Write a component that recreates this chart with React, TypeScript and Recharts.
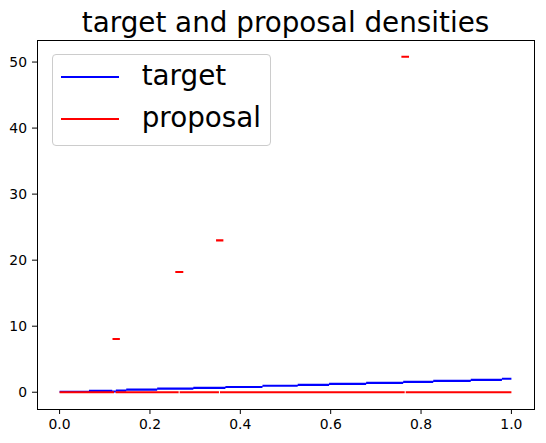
import React from 'react';
import { LineChart, Line, XAxis, YAxis } from 'recharts';

const xTicks = [0, 0.2, 0.4, 0.6, 0.8, 1.0];
const yTicks = [0, 10, 20, 30, 40, 50];

// target density, drawn as flat pieces between edges
const targetEdges = [0, 0.065, 0.1165, 0.1245, 0.1475, 0.216, 0.296, 0.367, 0.449, 0.527, 0.5965, 0.6785, 0.7605, 0.827, 0.91, 0.979, 1.0];
const targetDensity = [0.07, 0.2, 0.1, 0.25, 0.39, 0.54, 0.66, 0.8, 0.98, 1.12, 1.27, 1.42, 1.57, 1.72, 1.87, 2.04];

// proposal density pieces (start, end, value)
const proposalStart = [0, 0.1171, 0.124, 0.2561, 0.2657, 0.3463, 0.3549, 0.7565, 0.766];
const proposalEnd = [0.1205, 0.1334, 0.2635, 0.2738, 0.3527, 0.3625, 0.7638, 0.7734, 1.0];
const proposalDensity = [0, 8.05, 0, 18.2, 0, 23.0, 0, 50.8, 0];

type Pt = { x: number; y: number | null };

const pieces = (starts: number[], ends: number[], vals: number[]): Pt[] => {
  const out: Pt[] = [];
  vals.forEach((v, i) => {
    out.push({ x: starts[i], y: v });
    out.push({ x: ends[i], y: v });
    out.push({ x: ends[i], y: null });
  });
  return out;
};

const targetData = pieces(targetEdges.slice(0, -1), targetEdges.slice(1), targetDensity);
const proposalData = pieces(proposalStart, proposalEnd, proposalDensity);

const FONT = '"DejaVu Sans", sans-serif';
const tickStyle = { fill: '#000', fontSize: 13.9, fontFamily: FONT };

const App = () => {
  return (
    <div style={{ position: 'absolute', left: 0, top: 0, width: 546, height: 443, background: '#fff', fontFamily: FONT }}>
      <LineChart width={546} height={443} margin={{ top: 40, right: 12, left: 0, bottom: 0 }}>
        <XAxis
          dataKey="x"
          type="number"
          domain={[-0.05, 1.05]}
          ticks={xTicks}
          tickFormatter={(v: number) => v.toFixed(1)}
          height={34}
          stroke="#000"
          axisLine={false}
          tick={tickStyle}
          tickSize={5}
          tickMargin={5}
          allowDataOverflow
        />
        <YAxis
          type="number"
          domain={[-2.54, 53.34]}
          ticks={yTicks}
          width={37}
          stroke="#000"
          axisLine={false}
          tick={tickStyle}
          tickSize={5}
          tickMargin={5}
          allowDataOverflow
        />
        <Line data={targetData} dataKey="y" stroke="#0000ff" strokeWidth={2.1} dot={false} activeDot={false} isAnimationActive={false} connectNulls={false} />
        <Line data={proposalData} dataKey="y" stroke="#ff0000" strokeWidth={2.1} dot={false} activeDot={false} isAnimationActive={false} connectNulls={false} />
      </LineChart>

      {/* axes frame */}
      <div style={{ position: 'absolute', left: 37, top: 40, width: 498, height: 370, boxSizing: 'border-box', border: '1px solid #000', pointerEvents: 'none' }} />

      <div style={{ position: 'absolute', left: 0, width: 571, top: 8.5, textAlign: 'center', fontSize: 27.8, lineHeight: 1, color: '#000' }}>
        target and proposal densities
      </div>

      <div style={{ position: 'absolute', left: 51.7, top: 54.3, width: 219, height: 91.4, boxSizing: 'border-box', border: '1px solid #cccccc', borderRadius: 4, background: 'rgba(255,255,255,0.8)' }} />
      <div style={{ position: 'absolute', left: 61, top: 76, width: 58, height: 2, background: '#0000ff' }} />
      <div style={{ position: 'absolute', left: 61, top: 117.7, width: 58, height: 2, background: '#ff0000' }} />
      <div style={{ position: 'absolute', left: 141.7, top: 62, fontSize: 27.8, lineHeight: 1, color: '#000' }}>target</div>
      <div style={{ position: 'absolute', left: 141.7, top: 104, fontSize: 27.8, lineHeight: 1, color: '#000' }}>proposal</div>
    </div>
  );
};

export default App;
